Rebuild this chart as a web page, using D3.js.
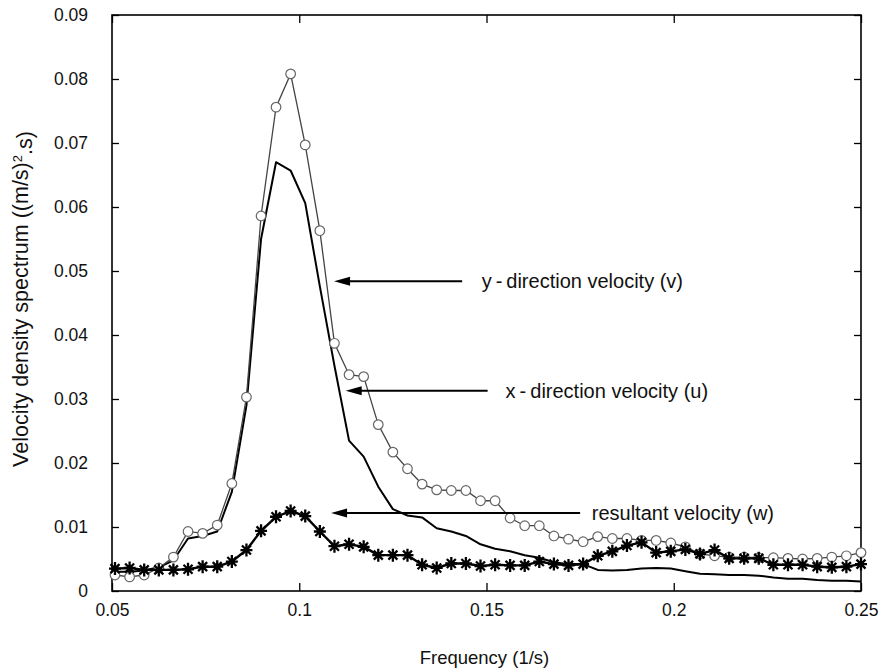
<!doctype html>
<html>
<head>
    <meta charset="UTF-8">
    <title>Velocity density spectrum</title>
    <script src="https://cdn.jsdelivr.net/npm/d3@7/dist/d3.min.js"></script>
    <style>
        body { margin: 0; background: #fff; }
        svg { font-family: "Liberation Sans", Arial, sans-serif; }
        .axis text { font-size: 17.5px; fill: #111; }
        .axis line { stroke: #000; stroke-width: 1.3; }
        .note { font-size: 20px; fill: #111; }
    </style>
</head>
<body>
<svg class="chart" width="881" height="670"></svg>
<script>
    // frequencies (1/s), one sample every 1/256 Hz
    var freq = [0.0508, 0.0547, 0.0586, 0.0625, 0.0664, 0.0703, 0.0742, 0.0781, 0.0820, 0.0859,
        0.0898, 0.0938, 0.0977, 0.1016, 0.1055, 0.1094, 0.1133, 0.1172, 0.1211, 0.1250,
        0.1289, 0.1328, 0.1367, 0.1406, 0.1445, 0.1484, 0.1523, 0.1563, 0.1602, 0.1641,
        0.1680, 0.1719, 0.1758, 0.1797, 0.1836, 0.1875, 0.1914, 0.1953, 0.1992, 0.2031,
        0.2070, 0.2109, 0.2148, 0.2188, 0.2227, 0.2266, 0.2305, 0.2344, 0.2383, 0.2422,
        0.2461, 0.2500];

    // y-direction velocity (v), circles
    var vSpec = [0.0025, 0.0022, 0.0025, 0.0036, 0.0053, 0.0093, 0.0090, 0.0103, 0.0168, 0.0303,
        0.0586, 0.0756, 0.0808, 0.0697, 0.0563, 0.0387, 0.0338, 0.0335, 0.0260, 0.0217,
        0.0191, 0.0167, 0.0158, 0.0157, 0.0157, 0.0141, 0.0141, 0.0114, 0.0102, 0.0102,
        0.0086, 0.0081, 0.0077, 0.0085, 0.0082, 0.0082, 0.0079, 0.0079, 0.0075, 0.0069,
        0.0058, 0.0055, 0.0053, 0.0053, 0.0052, 0.0052, 0.0051, 0.0050, 0.0051, 0.0053,
        0.0055, 0.0060];

    // x-direction velocity (u), plain line
    var uSpec = [0.0030, 0.0030, 0.0032, 0.0037, 0.0048, 0.0082, 0.0086, 0.0093, 0.0155, 0.0290,
        0.0550, 0.0670, 0.0657, 0.0606, 0.0476, 0.0352, 0.0235, 0.0210, 0.0163, 0.0128,
        0.0118, 0.0115, 0.0098, 0.0093, 0.0086, 0.0073, 0.0066, 0.0062, 0.0056, 0.0052,
        0.0045, 0.0042, 0.0042, 0.0033, 0.0032, 0.0033, 0.0035, 0.0036, 0.0035, 0.0031,
        0.0027, 0.0026, 0.0025, 0.0025, 0.0024, 0.0021, 0.0019, 0.0019, 0.0017, 0.0016,
        0.0016, 0.0015];

    // resultant velocity (w), stars
    var wSpec = [0.0035, 0.0036, 0.0033, 0.0033, 0.0033, 0.0034, 0.0038, 0.0038, 0.0046, 0.0064,
        0.0094, 0.0116, 0.0125, 0.0117, 0.0093, 0.0070, 0.0073, 0.0069, 0.0056, 0.0056,
        0.0056, 0.0041, 0.0036, 0.0043, 0.0043, 0.0039, 0.0041, 0.0040, 0.0040, 0.0046,
        0.0042, 0.0040, 0.0042, 0.0055, 0.0062, 0.0071, 0.0076, 0.0060, 0.0062, 0.0065,
        0.0058, 0.0064, 0.0051, 0.0051, 0.0051, 0.0041, 0.0041, 0.0041, 0.0038, 0.0037,
        0.0038, 0.0042];

    var xTicks = [0.05, 0.1, 0.15, 0.2, 0.25];
    var yTicks = [0, 0.01, 0.02, 0.03, 0.04, 0.05, 0.06, 0.07, 0.08, 0.09];

    // callouts: label, frequency the arrow points at, arrow level, where the shaft starts
    var notes = [
        {text: "y\u2009-\u2009direction velocity (v)", tip: 0.1093, level: 0.0484, from: 0.1435},
        {text: "x\u2009-\u2009direction velocity (u)", tip: 0.1124, level: 0.0313, from: 0.1503},
        {text: "resultant velocity (w)", tip: 0.1085, level: 0.0122, from: 0.1750}
    ];
    var noteX = [0.1487, 0.1551, 0.1781];

    var margin = {top: 15, right: 20, bottom: 79, left: 112};
    var width = 881 - margin.left - margin.right;
    var height = 670 - margin.top - margin.bottom;

    var svg = d3.select(".chart");
    var g = svg.append("g").attr("transform", "translate(" + margin.left + "," + margin.top + ")");

    var x = d3.scaleLinear().domain([0.05, 0.25]).range([0, width]);
    var y = d3.scaleLinear().domain([0, 0.09]).range([height, 0]);

    var yFmt = function (d) { return d === 0 ? "0" : d3.format(".2f")(d); };

    // axes with inward ticks on all four sides
    g.append("g").attr("class", "axis")
        .call(d3.axisLeft(y).tickValues(yTicks).tickSize(-7).tickPadding(24).tickFormat(yFmt))
        .call(function (a) { a.select(".domain").remove(); });
    g.append("g").attr("class", "axis").attr("transform", "translate(" + width + ",0)")
        .call(d3.axisRight(y).tickValues(yTicks).tickSize(-7).tickFormat(""))
        .call(function (a) { a.select(".domain").remove(); });
    g.append("g").attr("class", "axis").attr("transform", "translate(0," + height + ")")
        .call(d3.axisBottom(x).tickValues(xTicks).tickSize(-8).tickPadding(13).tickFormat(d3.format("~g")))
        .call(function (a) { a.select(".domain").remove(); });
    g.append("g").attr("class", "axis")
        .call(d3.axisTop(x).tickValues(xTicks).tickSize(-8).tickFormat(""))
        .call(function (a) { a.select(".domain").remove(); });

    g.append("rect")
        .attr("width", width).attr("height", height)
        .attr("fill", "none").attr("stroke", "#000").attr("stroke-width", 1.6);

    function series(vals) {
        return freq.map(function (f, i) { return {f: f, s: vals[i]}; });
    }

    var line = d3.line()
        .x(function (d) { return x(d.f); })
        .y(function (d) { return y(d.s); });

    // u : plain black line
    g.append("path").datum(series(uSpec))
        .attr("fill", "none").attr("stroke", "#000").attr("stroke-width", 2)
        .attr("stroke-linejoin", "round").attr("d", line);

    // v : thin line with open circles
    g.append("path").datum(series(vSpec))
        .attr("fill", "none").attr("stroke", "#444").attr("stroke-width", 1.3)
        .attr("d", line);
    g.append("g").selectAll("circle").data(series(vSpec))
        .enter().append("circle")
        .attr("cx", function (d) { return x(d.f); })
        .attr("cy", function (d) { return y(d.s); })
        .attr("r", 4.8)
        .attr("fill", "#fff").attr("stroke", "#666").attr("stroke-width", 1.2);

    // w : thick line with star markers
    g.append("path").datum(series(wSpec))
        .attr("fill", "none").attr("stroke", "#000").attr("stroke-width", 2.4)
        .attr("stroke-linejoin", "round").attr("d", line);
    var star = "M0,-6.5V6.5M-6,0H6M-4.5,-4.5L4.5,4.5M-4.5,4.5L4.5,-4.5";
    g.append("g").selectAll("path").data(series(wSpec))
        .enter().append("path")
        .attr("transform", function (d) { return "translate(" + x(d.f) + "," + y(d.s) + ")"; })
        .attr("d", star)
        .attr("stroke", "#000").attr("stroke-width", 2.3).attr("fill", "none");

    // callout arrows
    notes.forEach(function (n, i) {
        var tx = x(n.tip), ty = y(n.level), fx = x(n.from);
        g.append("line")
            .attr("x1", fx).attr("y1", ty).attr("x2", tx + 12).attr("y2", ty)
            .attr("stroke", "#000").attr("stroke-width", 2);
        g.append("path")
            .attr("d", "M" + tx + "," + ty + "L" + (tx + 16) + "," + (ty - 4.5) + "L" + (tx + 16) + "," + (ty + 4.5) + "Z")
            .attr("fill", "#000");
        g.append("text").attr("class", "note")
            .attr("x", x(noteX[i])).attr("y", ty).attr("dy", "0.36em")
            .text(n.text);
    });

    // axis titles
    svg.append("text")
        .attr("x", margin.left + width / 2 - 2).attr("y", 664)
        .attr("text-anchor", "middle").attr("font-size", 18.5).attr("fill", "#111")
        .text("Frequency (1/s)");

    var yt = svg.append("text")
        .attr("transform", "translate(28,299) rotate(-90)")
        .attr("text-anchor", "middle").attr("font-size", 21.5).attr("fill", "#111");
    yt.append("tspan").text("Velocity density spectrum ((m/s)");
    yt.append("tspan").attr("dy", "-0.45em").attr("font-size", 13).text("2");
    yt.append("tspan").attr("dy", "0.45em").text(".s)");
</script>
</body>
</html>
